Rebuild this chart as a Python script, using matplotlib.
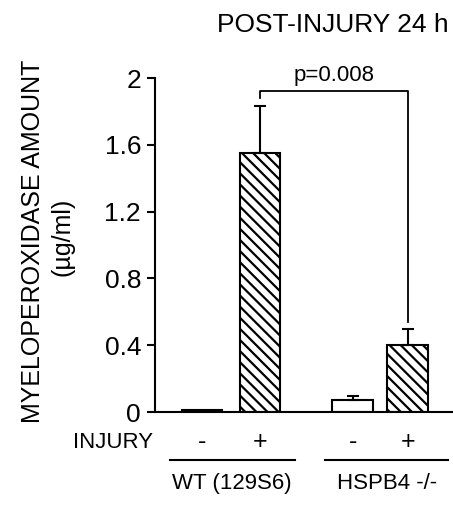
import matplotlib
matplotlib.use("Agg")
import matplotlib.pyplot as plt

plt.rcParams['font.family'] = ['Liberation Sans Narrow', 'Liberation Sans', 'DejaVu Sans']
plt.rcParams['hatch.linewidth'] = 1.6

# data
groups = ['WT (129S6)', 'HSPB4 -/-']
injury = ['-', '+', '-', '+']
values = [0.01, 1.55, 0.07, 0.40]
errors = [0.0, 0.28, 0.025, 0.10]
hatched = [False, True, False, True]
yticks = [0, 0.4, 0.8, 1.2, 1.6, 2]
ytick_labels = ['0', '0.4', '0.8', '1.2', '1.6', '2']
p_text = 'p=0.008'

# layout
xpos = [0, 1, 2.6, 3.55]
group_span = [(-0.55, 1.6), (2.12, 4.24)]
group_center = [0.52, 3.2]
width = 0.7

fig = plt.figure(figsize=(4.53, 5.08), dpi=100)
ax = fig.add_axes([155 / 453, 1 - 412 / 508, (453 - 155) / 453, (412 - 78) / 508])

for x, v, e, h in zip(xpos, values, errors, hatched):
    ax.bar(x, v, width=width, color='white', edgecolor='black', linewidth=1.5,
           hatch='\\\\\\' if h else None, zorder=2)
    if e > 0:
        ax.errorbar(x, v, yerr=[[0], [e]], color='black', capsize=4,
                    elinewidth=1.5, capthick=1.5, zorder=3)

ax.set_xlim(-0.81, 4.33)
ax.set_ylim(0, 2)
ax.set_yticks(yticks)
ax.set_yticklabels(ytick_labels, fontsize=19)
ax.set_xticks([])
ax.spines['top'].set_visible(False)
ax.spines['right'].set_visible(False)
ax.spines['left'].set_linewidth(1.5)
ax.spines['bottom'].set_linewidth(1.5)
ax.tick_params(axis='y', length=6, width=1.5, pad=4)

# significance bracket
ax.plot([xpos[1], xpos[1], xpos[3], xpos[3]], [1.88, 1.92, 1.92, 0.54],
        color='black', lw=1.3, clip_on=False)
ax.text((xpos[1] + xpos[3]) / 2, 1.95, p_text, ha='center', va='bottom', fontsize=16)

# injury row and group labels
ax.text(-0.85, -0.18, 'INJURY', ha='right', va='center', fontsize=16)
for x, s in zip(xpos, injury):
    ax.text(x, -0.18, s, ha='center', va='center', fontsize=18)
for (x0, x1), xc, g in zip(group_span, group_center, groups):
    ax.plot([x0, x1], [-0.29, -0.29], color='black', lw=1.5, clip_on=False)
    ax.text(xc, -0.43, g, ha='center', va='center', fontsize=16)

fig.text(333 / 453, 1 - 25 / 508, 'POST-INJURY 24 h', ha='center', va='center', fontsize=19)
fig.text(33 / 453, 1 - 241 / 508, 'MYELOPEROXIDASE AMOUNT', rotation=90,
         ha='center', va='center', fontsize=18)
fig.text(63 / 453, 1 - 237 / 508, '(\u00b5g/ml)', rotation=90,
         ha='center', va='center', fontsize=18)

fig.savefig('out.png', dpi=100)
